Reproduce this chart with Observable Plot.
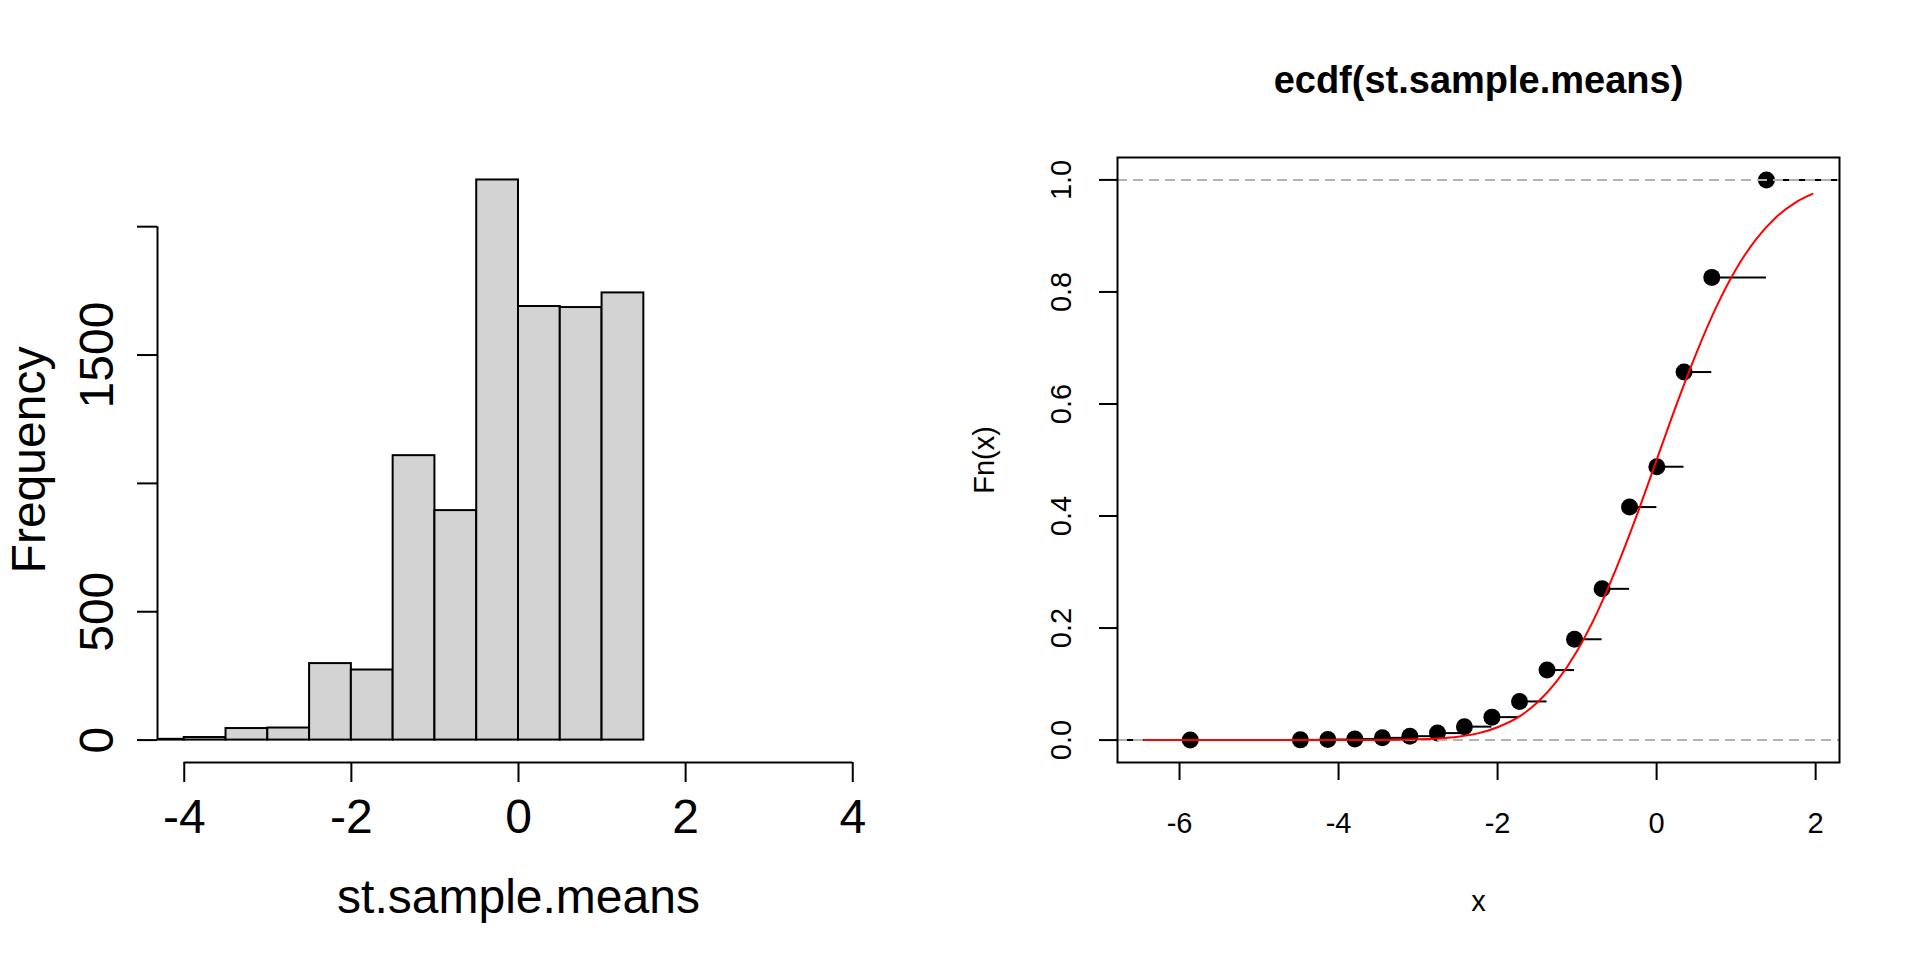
<!DOCTYPE html>
<html><head><meta charset="utf-8">
<script src="https://cdn.jsdelivr.net/npm/d3@7"></script>
<script src="https://cdn.jsdelivr.net/npm/@observablehq/plot@0.6"></script>
<style>
html,body{margin:0;padding:0;background:#fff;}
#wrap{position:relative;width:1920px;height:960px;overflow:hidden;background:#fff;}
#left,#right{position:absolute;top:0;width:960px;height:960px;}
#left{left:0}#right{left:960px}
svg{font-family:"Liberation Sans",Arial,Helvetica,sans-serif;}
</style></head><body>
<div id="wrap"><div id="left"></div><div id="right"></div></div>
<script>
// ---- Histogram data ----
const binEdges  = [-4.5,-4,-3.5,-3,-2.5,-2,-1.5,-1,-0.5,0,0.5,1,1.5];
const binCounts = [3,10,45,47,298,273,1108,894,2182,1689,1685,1742];
const histXTicks = [-4,-2,0,2,4];
const histYTicks = [0,500,1000,1500,2000];
const histYLabels = ["0","500","","1500",""];
const histXLabel = "st.sample.means";
const histYLabel = "Frequency";

// ---- ECDF data ----
const knotX = [-5.865,-4.48,-4.135,-3.795,-3.449,-3.103,-2.756,-2.417,-2.071,-1.724,-1.378,-1.032,-0.686,-0.340,0.003,0.345,0.694,1.381];
const knotF = [0.0001,0.0004,0.001,0.002,0.004,0.007,0.0125,0.024,0.041,0.069,0.125,0.180,0.270,0.416,0.488,0.657,0.826,1.0];
const normX = [-6.445,-4,-3.5,-3,-2.75,-2.5,-2.25,-2,-1.75,-1.5,-1.25,-1,-0.75,-0.5,-0.25,0,0.25,0.5,0.75,1,1.25,1.5,1.75,1.96];
const normY = [0,0,0.0002,0.0013,0.003,0.006,0.012,0.023,0.040,0.067,0.106,0.159,0.227,0.309,0.401,0.5,0.599,0.691,0.773,0.841,0.894,0.933,0.960,0.975];
const ecdfXTicks = [-6,-4,-2,0,2];
const ecdfYTicks = [0,0.2,0.4,0.6,0.8,1.0];
const ecdfTitle = "ecdf(st.sample.means)";
const ecdfXLabel = "x";
const ecdfYLabel = "Fn(x)";

const FONT = "Liberation Sans, Arial, Helvetica, sans-serif";

// ---------- Left: histogram ----------
const histData = binCounts.map((c,i) => ({x1: binEdges[i], x2: binEdges[i+1], count: c}));
const hxDomain = [-4.32, 4.32];
const hyDomain = [-87.3, 2269.5];

const left = Plot.plot({
  width: 960, height: 960,
  marginLeft: 157, marginRight: 81, marginTop: 157, marginBottom: 198,
  x: {domain: hxDomain},
  y: {domain: hyDomain},
  style: {fontFamily: FONT, background: "transparent", color: "black", overflow: "visible"},
  marks: [
    Plot.rect(histData, {x1: "x1", x2: "x2", y1: () => 0, y2: "count", fill: "#d3d3d3", stroke: "black", strokeWidth: 2, clip: true}),
    Plot.ruleY([hyDomain[0]], {x1: histXTicks[0], x2: histXTicks[histXTicks.length-1], stroke: "black", strokeWidth: 2}),
    Plot.axisX({ticks: histXTicks, tickSize: 20, tickPadding: 16, tickFormat: d => String(d), fontSize: 48, label: null, strokeWidth: 2}),
    Plot.ruleX([hxDomain[0]], {y1: histYTicks[0], y2: histYTicks[histYTicks.length-1], stroke: "black", strokeWidth: 2}),
    Plot.axisY({ticks: histYTicks, tickSize: 20, tickFormat: () => "", label: null, strokeWidth: 2}),
    Plot.text(histYTicks.map((t,i) => ({t, s: histYLabels[i]})), {y: "t", text: "s", frameAnchor: "left", dx: -45, rotate: -90, lineAnchor: "bottom", textAnchor: "middle", fontSize: 48}),
    Plot.text([histYLabel], {frameAnchor: "left", dx: -113, rotate: -90, lineAnchor: "bottom", textAnchor: "middle", fontSize: 48}),
    Plot.text([histXLabel], {frameAnchor: "bottom", dy: 150, lineAnchor: "bottom", textAnchor: "middle", fontSize: 48})
  ]
});
document.getElementById("left").appendChild(left);

// ---------- Right: ECDF ----------
const exDomain = [-6.78, 2.30];
const eyDomain = [-0.04, 1.04];
const knots = knotX.map((x,i) => ({x, F: knotF[i]}));
const segs = [{x1: exDomain[0] - 1, x2: knotX[0], F: 0}].concat(
  knotX.map((x,i) => ({x1: x, x2: i < knotX.length-1 ? knotX[i+1] : exDomain[1] + 1, F: knotF[i]})));
const normPts = normX.map((x,i) => ({x, y: normY[i]}));

const right = Plot.plot({
  width: 960, height: 960,
  marginLeft: 157, marginRight: 81, marginTop: 157, marginBottom: 198,
  x: {domain: exDomain},
  y: {domain: eyDomain},
  style: {fontFamily: FONT, background: "transparent", color: "black", overflow: "visible"},
  marks: [
    Plot.ruleY(segs, {x1: "x1", x2: "x2", y: "F", stroke: "black", strokeWidth: 2, clip: true}),
    Plot.dot(knots, {x: "x", y: "F", r: 8.5, fill: "black", stroke: "none"}),
    Plot.ruleY([0, 1], {stroke: "#b3b3b3", strokeWidth: 2, strokeDasharray: "10,6"}),
    Plot.line(normPts, {x: "x", y: "y", stroke: "red", strokeWidth: 2, curve: "monotone-x"}),
    Plot.frame({stroke: "black", strokeWidth: 2}),
    Plot.axisX({ticks: ecdfXTicks, tickSize: 18, tickPadding: 32, tickFormat: d => String(d), fontSize: 29, label: null, strokeWidth: 2}),
    Plot.axisY({ticks: ecdfYTicks, tickSize: 18, tickFormat: () => "", label: null, strokeWidth: 2}),
    Plot.text(ecdfYTicks, {y: d => d, text: d => d.toFixed(1), frameAnchor: "left", dx: -47, rotate: -90, lineAnchor: "bottom", textAnchor: "middle", fontSize: 29}),
    Plot.text([ecdfYLabel], {frameAnchor: "left", dx: -124, rotate: -90, lineAnchor: "bottom", textAnchor: "middle", fontSize: 29}),
    Plot.text([ecdfXLabel], {frameAnchor: "bottom", dy: 148, lineAnchor: "bottom", textAnchor: "middle", fontSize: 29}),
    Plot.text([ecdfTitle], {frameAnchor: "top", dy: -65, lineAnchor: "bottom", textAnchor: "middle", fontSize: 38, fontWeight: "bold"})
  ]
});
document.getElementById("right").appendChild(right);
</script>
</body></html>
